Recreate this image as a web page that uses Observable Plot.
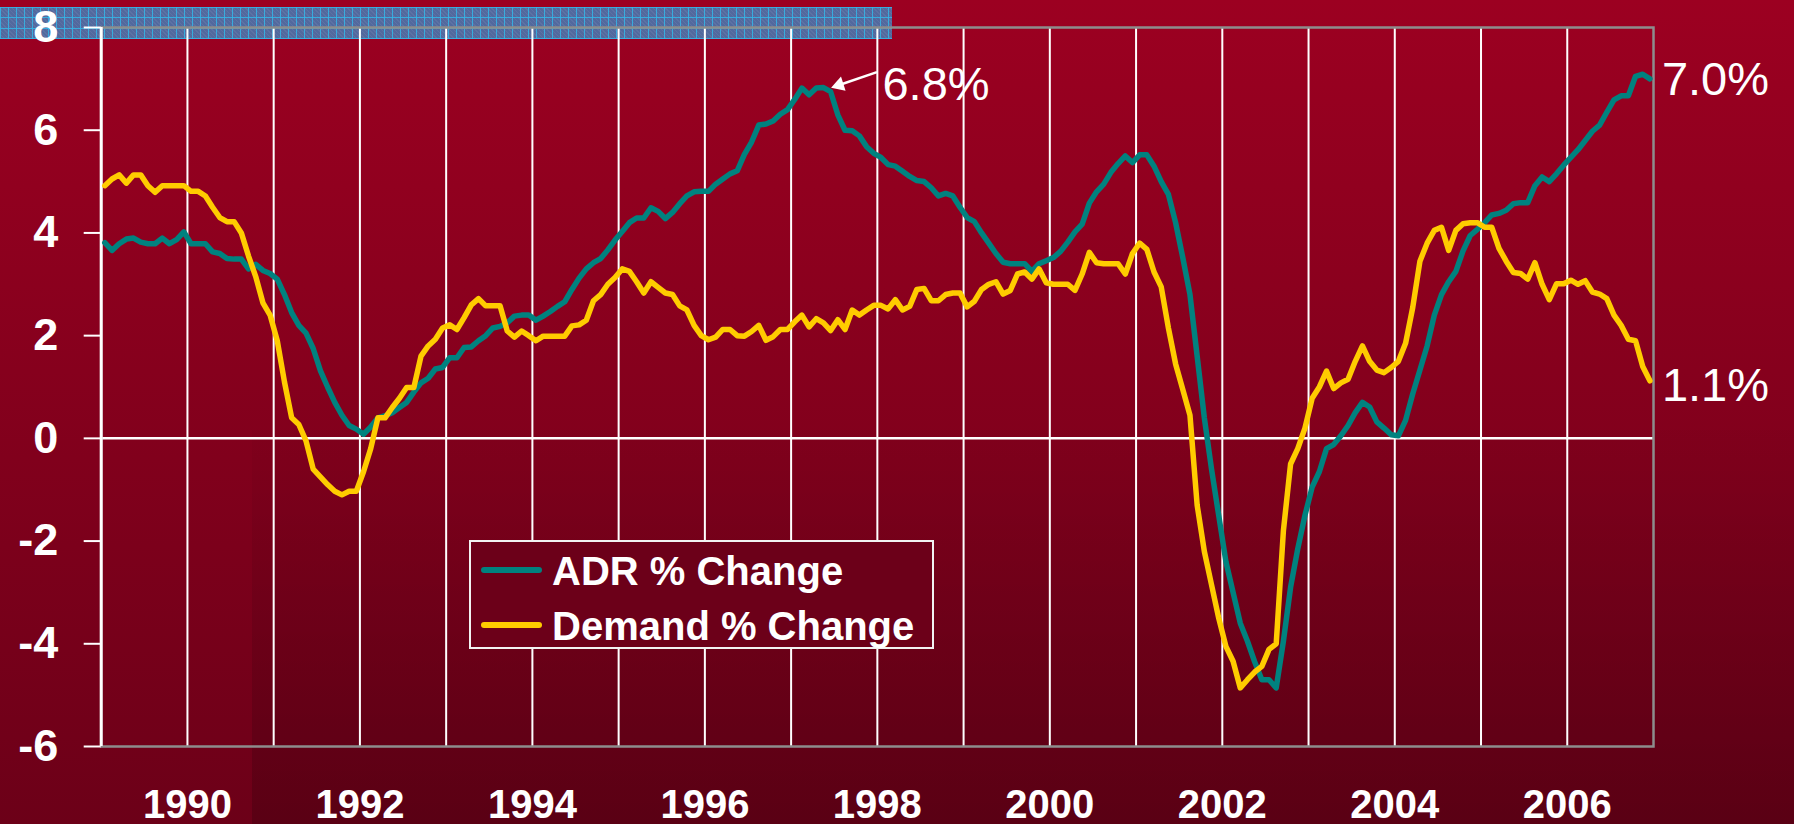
<!DOCTYPE html>
<html>
<head>
<meta charset="utf-8">
<script src="https://cdn.jsdelivr.net/npm/d3@7"></script>
<script src="https://cdn.jsdelivr.net/npm/@observablehq/plot@0.6"></script>
<style>
  html, body { margin: 0; padding: 0; }
  body {
    width: 1794px; height: 824px; overflow: hidden; position: relative;
    background: linear-gradient(to bottom, #9c0021 0%, #86001d 45%, #6c0018 100%);
    font-family: "Liberation Sans", Arial, sans-serif;
  }
  #panel {
    position: absolute; left: 252px; top: 430px; right: 0; bottom: 0;
    background: linear-gradient(to bottom, rgba(0,0,0,0.02), rgba(0,0,0,0.17));
  }
  #strip {
    position: absolute; left: 0; top: 7px; width: 892px; height: 32px;
    background-color: #52699e;
    background-image:
      repeating-linear-gradient(90deg, rgba(52,182,232,0.85) 0 1px, transparent 1px 8px),
      repeating-linear-gradient(0deg, rgba(52,182,232,0.85) 0 1px, transparent 1px 10.5px),
      repeating-linear-gradient(45deg, rgba(255,255,255,0.06) 0 1px, transparent 1px 3px);
  }
  #chart { position: absolute; left: 0; top: 0; }
  #legend {
    position: absolute; left: 469px; top: 540px; width: 461px; height: 105px;
    border: 2px solid #f2f2f2; background: #6c0019;
  }
  #legend .sw { position: absolute; left: 10px; width: 61px; height: 6px; border-radius: 3px; }
  #legend .lb { position: absolute; left: 81px; font-size: 40px; font-weight: bold; color: white; line-height: 40px; white-space: nowrap; }
</style>
</head>
<body>
<div id="strip"></div>
<div id="panel"></div>
<div id="chart"></div>
<div id="legend"></div>
<script>
// ---- Data (12-month moving % change, monthly, Jan 1989 – Dec 2006) ----
const startYear = 1989;
const seriesNames = ["ADR % Change", "Demand % Change"];
const seriesColors = ["#00827f", "#ffcc00"];

const adr = [
  3.81, 3.66, 3.79, 3.88, 3.90, 3.82, 3.79, 3.79, 3.90, 3.79, 3.87, 4.02,
  3.79, 3.79, 3.79, 3.63, 3.60, 3.50, 3.49, 3.49, 3.30, 3.39, 3.27, 3.21,
  3.10, 2.80, 2.45, 2.20, 2.05, 1.75, 1.32, 1.00, 0.70, 0.45, 0.25, 0.18,
  0.08, 0.22, 0.40, 0.44, 0.50, 0.60, 0.70, 0.90, 1.08, 1.17, 1.35, 1.38,
  1.57, 1.57, 1.77, 1.78, 1.90, 2.00, 2.15, 2.18, 2.25, 2.38, 2.40, 2.40,
  2.30, 2.38, 2.47, 2.57, 2.66, 2.90, 3.12, 3.30, 3.42, 3.50, 3.67, 3.86,
  4.03, 4.20, 4.29, 4.29, 4.49, 4.42, 4.28, 4.40, 4.57, 4.72, 4.80, 4.81,
  4.81, 4.95, 5.05, 5.15, 5.21, 5.53, 5.77, 6.10, 6.12, 6.18, 6.31, 6.40,
  6.60, 6.82, 6.69, 6.82, 6.83, 6.75, 6.30, 6.00, 5.99, 5.89, 5.68, 5.55,
  5.47, 5.33, 5.30, 5.20, 5.10, 5.02, 5.00, 4.88, 4.72, 4.77, 4.72, 4.50,
  4.30, 4.22, 4.00, 3.80, 3.60, 3.43, 3.40, 3.40, 3.40, 3.25, 3.40, 3.46,
  3.52, 3.64, 3.82, 4.02, 4.17, 4.58, 4.80, 4.95, 5.18, 5.35, 5.50, 5.37,
  5.52, 5.52, 5.30, 5.00, 4.75, 4.20, 3.52, 2.80, 1.60, 0.40, -0.60, -1.50,
  -2.40, -3.00, -3.60, -3.95, -4.35, -4.70, -4.70, -4.86, -3.95, -2.90, -2.15, -1.50,
  -0.95, -0.65, -0.20, -0.12, 0.05, 0.25, 0.50, 0.70, 0.61, 0.32, 0.20, 0.07,
  0.05, 0.35, 0.87, 1.33, 1.80, 2.40, 2.80, 3.05, 3.25, 3.65, 3.95, 4.07,
  4.20, 4.35, 4.38, 4.44, 4.57, 4.59, 4.59, 4.92, 5.09, 5.00, 5.15, 5.32,
  5.47, 5.62, 5.80, 5.98, 6.10, 6.35, 6.59, 6.67, 6.67, 7.05, 7.09, 7.00
];

const demand = [
  4.92, 5.05, 5.13, 4.97, 5.13, 5.13, 4.92, 4.79, 4.92, 4.92, 4.92, 4.92,
  4.81, 4.81, 4.72, 4.50, 4.30, 4.22, 4.22, 4.00, 3.55, 3.15, 2.64, 2.40,
  1.90, 1.10, 0.40, 0.27, -0.05, -0.60, -0.75, -0.90, -1.03, -1.10, -1.03, -1.03,
  -0.65, -0.20, 0.40, 0.40, 0.60, 0.78, 0.99, 0.99, 1.60, 1.80, 1.93, 2.15,
  2.21, 2.12, 2.35, 2.60, 2.72, 2.58, 2.58, 2.58, 2.09, 1.97, 2.09, 2.00,
  1.90, 1.99, 1.99, 1.99, 1.99, 2.19, 2.21, 2.30, 2.68, 2.80, 3.00, 3.13,
  3.30, 3.25, 3.05, 2.83, 3.05, 2.94, 2.83, 2.80, 2.58, 2.50, 2.20, 2.00,
  1.92, 1.97, 2.12, 2.12, 2.00, 1.99, 2.08, 2.20, 1.91, 1.98, 2.12, 2.12,
  2.27, 2.40, 2.17, 2.33, 2.25, 2.10, 2.31, 2.12, 2.50, 2.40, 2.50, 2.59,
  2.59, 2.52, 2.70, 2.50, 2.57, 2.90, 2.92, 2.68, 2.68, 2.80, 2.83, 2.83,
  2.56, 2.67, 2.90, 3.00, 3.05, 2.81, 2.88, 3.20, 3.24, 3.10, 3.30, 3.03,
  3.00, 3.00, 3.00, 2.88, 3.20, 3.62, 3.42, 3.40, 3.40, 3.40, 3.20, 3.60,
  3.80, 3.68, 3.24, 2.95, 2.15, 1.45, 0.95, 0.45, -1.30, -2.20, -2.85, -3.50,
  -4.05, -4.34, -4.86, -4.70, -4.55, -4.44, -4.11, -4.00, -1.80, -0.50, -0.20, 0.20,
  0.78, 1.00, 1.31, 0.97, 1.08, 1.15, 1.50, 1.80, 1.50, 1.33, 1.28, 1.38,
  1.50, 1.85, 2.55, 3.45, 3.80, 4.05, 4.11, 3.66, 4.05, 4.18, 4.20, 4.20,
  4.11, 4.11, 3.70, 3.45, 3.23, 3.21, 3.10, 3.42, 3.00, 2.70, 3.01, 3.01,
  3.08, 3.00, 3.07, 2.85, 2.81, 2.72, 2.40, 2.20, 1.93, 1.90, 1.40, 1.12
];

const gridYears = d3.range(1990, 2007);          // yearly gridlines
const labelYears = [1990, 1992, 1994, 1996, 1998, 2000, 2002, 2004, 2006];
const yTicks = [-6, -4, -2, 0, 2, 4, 6, 8];
const peakLabel = ["6.8%"];
const endLabels = ["7.0%", "1.1%"];

// ---- Build tables ----
const monthT = i => startYear + (i + 0.5) / 12;
const adrRows = adr.map((v, i) => ({t: monthT(i), v}));
const demRows = demand.map((v, i) => ({t: monthT(i), v}));
const peakIdx = 100; // 1997 ADR peak
const peak = adrRows[peakIdx];
const lastIdx = adr.length - 1;
const adrEnd = {t: adrRows[lastIdx].t, v: adrRows[lastIdx].v, label: endLabels[0]};
const demEnd = {t: demRows[lastIdx].t, v: demRows[lastIdx].v, label: endLabels[1]};

const chart = Plot.plot({
  width: 1794,
  height: 824,
  marginLeft: 100.7,
  marginRight: 141,
  marginTop: 27,
  marginBottom: 78,
  x: {domain: [1989, 2007], label: null},
  y: {domain: [-6, 8], label: null},
  style: {background: "transparent", color: "white", fontFamily: "'Liberation Sans', Arial, sans-serif", overflow: "visible"},
  marks: [
    Plot.ruleX(gridYears, {stroke: "white", strokeWidth: 2}),
    Plot.ruleY([0], {stroke: "white", strokeWidth: 2.5}),
    Plot.frame({stroke: "#8d8d8d", strokeWidth: 2.5}),
    Plot.ruleX([1989], {stroke: "white", strokeWidth: 3}),
    Plot.axisY({ticks: yTicks, tickFormat: d => String(d), tickSize: 17, tickPadding: 26,
                fontSize: 45, fontWeight: "bold", strokeWidth: 2, label: null}),
    Plot.axisX({ticks: labelYears, tickFormat: d => String(d), tickSize: 0, tickPadding: 43,
                fontSize: 40, fontWeight: "bold", label: null}),
    Plot.line(adrRows, {x: "t", y: "v", stroke: seriesColors[0], strokeWidth: 5.5, strokeLinejoin: "round"}),
    Plot.line(demRows, {x: "t", y: "v", stroke: seriesColors[1], strokeWidth: 5.5, strokeLinejoin: "round"}),
    // annotation arrow: shaft + filled head
    Plot.link([peak], {x1: d => d.t + 0.62, y1: d => d.v + 0.3, x2: d => d.t + 0.2, y2: d => d.v + 0.06,
                       stroke: "white", strokeWidth: 2.5}),
    Plot.dot([peak], {x: d => d.t + 0.09, y: "v", symbol: "triangle", r: 5.5, rotate: 252,
                      dx: 8, dy: -2.6, fill: "white", stroke: "none"}),
    Plot.text([peak], {x: "t", y: "v", text: () => peakLabel[0], dx: 59, dy: 12,
                       textAnchor: "start", lineAnchor: "bottom", fontSize: 47, fill: "white"}),
    Plot.text([adrEnd], {x: "t", y: "v", text: "label", dx: 12, dy: 16,
                         textAnchor: "start", lineAnchor: "bottom", fontSize: 47, fill: "white"}),
    Plot.text([demEnd], {x: "t", y: "v", text: "label", dx: 12, dy: 20,
                         textAnchor: "start", lineAnchor: "bottom", fontSize: 47, fill: "white"})
  ]
});
document.getElementById("chart").appendChild(chart);

// ---- Legend (overlay box inside plot area) ----
const legend = document.getElementById("legend");
seriesNames.forEach((name, k) => {
  const sw = document.createElement("div");
  sw.className = "sw";
  sw.style.top = (25 + k * 55) + "px";
  sw.style.background = seriesColors[k];
  legend.appendChild(sw);
  const lb = document.createElement("div");
  lb.className = "lb";
  lb.style.top = (9 + k * 55) + "px";
  lb.textContent = name;
  legend.appendChild(lb);
});
</script>
</body>
</html>
